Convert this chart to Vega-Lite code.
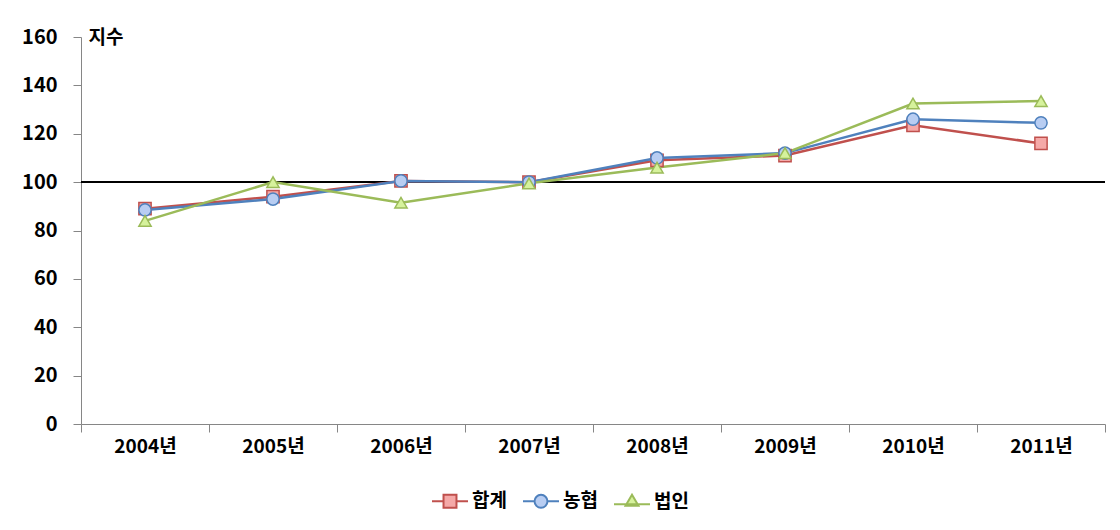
{
  "$schema": "https://vega.github.io/schema/vega-lite/v6.json",
  "autosize": {"type": "none"},
  "padding": {"left": 81, "top": 37, "right": 15, "bottom": 106},
  "width": 1024,
  "height": 387,
  "background": "white",
  "config": {
    "font": "Noto Sans CJK KR",
    "view": {"stroke": null}
  },
  "data": {
    "values": [
      {"year": "2004년", "series": "합계", "value": 89},
      {"year": "2005년", "series": "합계", "value": 94},
      {"year": "2006년", "series": "합계", "value": 100.5},
      {"year": "2007년", "series": "합계", "value": 100},
      {"year": "2008년", "series": "합계", "value": 109},
      {"year": "2009년", "series": "합계", "value": 111},
      {"year": "2010년", "series": "합계", "value": 123.5},
      {"year": "2011년", "series": "합계", "value": 116},
      {"year": "2004년", "series": "농협", "value": 88.5},
      {"year": "2005년", "series": "농협", "value": 93},
      {"year": "2006년", "series": "농협", "value": 100.5},
      {"year": "2007년", "series": "농협", "value": 100},
      {"year": "2008년", "series": "농협", "value": 110},
      {"year": "2009년", "series": "농협", "value": 112},
      {"year": "2010년", "series": "농협", "value": 126},
      {"year": "2011년", "series": "농협", "value": 124.5},
      {"year": "2004년", "series": "법인", "value": 84},
      {"year": "2005년", "series": "법인", "value": 100},
      {"year": "2006년", "series": "법인", "value": 91.5},
      {"year": "2007년", "series": "법인", "value": 99.5},
      {"year": "2008년", "series": "법인", "value": 106},
      {"year": "2009년", "series": "법인", "value": 112},
      {"year": "2010년", "series": "법인", "value": 132.5},
      {"year": "2011년", "series": "법인", "value": 133.5}
    ]
  },
  "encoding": {
    "x": {
      "field": "year",
      "type": "ordinal",
      "scale": {"paddingInner": 0, "paddingOuter": 0},
      "axis": {
        "title": null,
        "labelAngle": 0,
        "labelFont": "Noto Sans CJK KR",
        "labelFontWeight": "bold",
        "labelFontSize": 19,
        "labelColor": "#000000",
        "labelPadding": 5,
        "tickBand": "extent",
        "tickSize": 8,
        "tickColor": "#868686",
        "domainColor": "#868686",
        "domainWidth": 1
      }
    },
    "y": {
      "field": "value",
      "type": "quantitative",
      "scale": {"domain": [0, 160], "nice": false, "zero": true},
      "axis": {
        "title": "지수",
        "titleAngle": 0,
        "titleX": 7,
        "titleY": 0,
        "titleAlign": "left",
        "titleBaseline": "middle",
        "titleFont": "Noto Sans CJK KR",
        "titleFontWeight": "bold",
        "titleFontSize": 19,
        "titleColor": "#000000",
        "values": [0, 20, 40, 60, 80, 100, 120, 140, 160],
        "grid": false,
        "labelFont": "Noto Sans CJK KR",
        "labelFontWeight": "bold",
        "labelFontSize": 20,
        "labelColor": "#000000",
        "labelPadding": 16,
        "tickSize": 8,
        "tickColor": "#868686",
        "domainColor": "#868686"
      }
    }
  },
  "resolve": {
    "scale": {"shape": "independent", "fill": "independent", "stroke": "independent"},
    "legend": {"shape": "independent", "fill": "independent", "stroke": "independent"}
  },
  "layer": [
    {
      "mark": {"type": "rule", "color": "#000000", "strokeWidth": 1.5},
      "encoding": {"y": {"datum": 100}, "x": null}
    },
    {
      "mark": {"type": "line", "strokeWidth": 2.5},
      "encoding": {
        "stroke": {
          "field": "series",
          "type": "nominal",
          "scale": {"domain": ["합계", "농협", "법인"], "range": ["#c0504d", "#4f81bd", "#9bbb59"]},
          "legend": null
        }
      }
    },
    {
      "mark": {"type": "point", "filled": true, "size": 150, "strokeWidth": 1.5, "opacity": 1},
      "encoding": {
        "stroke": {
          "field": "series",
          "type": "nominal",
          "scale": {"domain": ["합계", "농협", "법인"], "range": ["#c0504d", "#4f81bd", "#9bbb59"]},
          "legend": null
        },
        "fill": {
          "field": "series",
          "type": "nominal",
          "scale": {"domain": ["합계", "농협", "법인"], "range": ["#f5a9a8", "#b8cdf2", "#d6f29c"]},
          "legend": null
        },
        "shape": {
          "field": "series",
          "type": "nominal",
          "scale": {"domain": ["합계", "농협", "법인"], "range": ["square", "circle", "triangle-up"]},
          "legend": null
        }
      }
    },
    {
      "mark": {"type": "point", "filled": true, "size": 1296, "strokeWidth": 2, "opacity": 0},
      "encoding": {
        "stroke": {
          "field": "series",
          "type": "nominal",
          "scale": {"domain": ["합계", "농협", "법인"], "range": ["#c0504d", "#4f81bd", "#9bbb59"]}
        },
        "fill": {
          "field": "series",
          "type": "nominal",
          "scale": {"domain": ["합계", "농협", "법인"], "range": ["#f5a9a8", "#b8cdf2", "#d6f29c"]}
        },
        "shape": {
          "field": "series",
          "type": "nominal",
          "scale": {
            "domain": ["합계", "농협", "법인"],
            "range": [
              "M-1,0H-0.36M0.36,0H1M-0.36,-0.36H0.36V0.36H-0.36Z",
              "M-1,0H-0.36M0.36,0H1M-0.36,0A0.36,0.36 0 1,0 0.36,0A0.36,0.36 0 1,0 -0.36,0Z",
              "M-1,0.15H1M0,-0.38L0.36,0.24H-0.36Z"
            ]
          },
          "legend": {
            "title": null,
            "orient": "none",
            "direction": "horizontal",
            "legendX": 350,
            "legendY": 445,
            "symbolSize": 1296,
            "symbolStrokeWidth": 2,
            "symbolOpacity": 1,
            "labelFont": "Noto Sans CJK KR",
            "labelFontWeight": "bold",
            "labelFontSize": 19,
            "labelColor": "#000000",
            "labelOffset": 3,
            "columnPadding": 12
          }
        }
      }
    }
  ]
}
